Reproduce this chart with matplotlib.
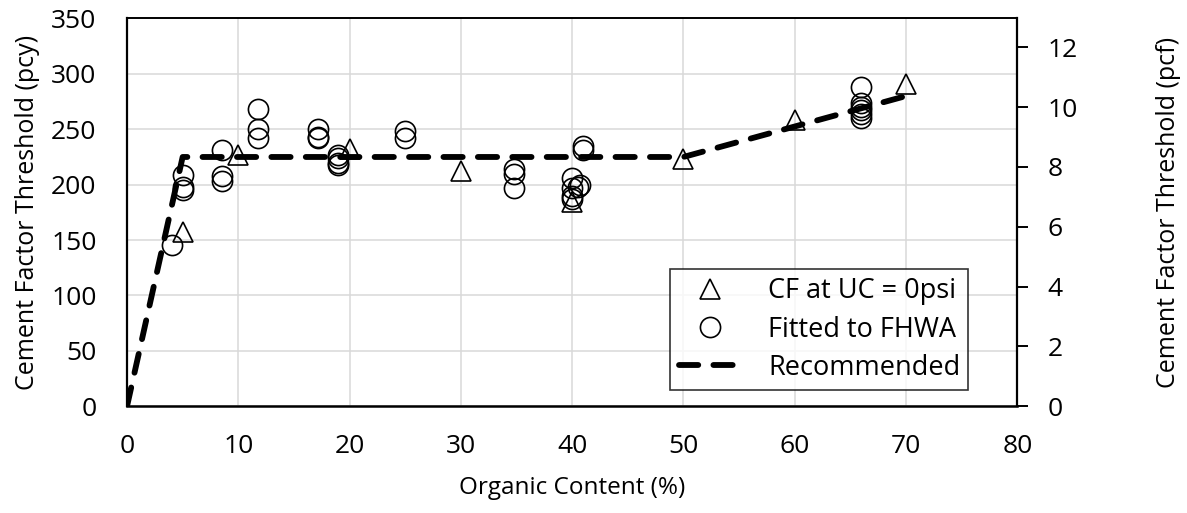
import numpy as np
import matplotlib
matplotlib.use("Agg")
import matplotlib.pyplot as plt

plt.rcParams['font.family'] = ['Open Sans', 'DejaVu Sans']

# CF at UC = 0psi
tri_x = [5, 10, 20, 30, 40, 50, 60, 70]
tri_y = [157, 227, 232, 212, 184, 223, 258, 291]

# Fitted to FHWA
circ_x = [4, 5, 5, 5, 8.5, 8.5, 8.5, 11.8, 11.8, 11.8, 17.2, 17.2, 17.2,
          19, 19, 19, 19, 25, 25, 34.8, 34.8, 34.8,
          40, 40.7, 40, 40, 40, 40.5, 41, 41,
          66, 66, 66, 66, 66, 66]
circ_y = [146, 209, 198, 195, 231, 208, 203, 268, 250, 242, 250, 243, 242,
          227, 224, 220, 218, 248, 242, 214, 210, 197,
          206, 200, 197, 190, 187, 198, 235, 231,
          288, 274, 270, 267, 264, 260]

# Recommended
rec_x = [0, 5, 50, 70]
rec_y = [0, 225, 225, 280]

fig = plt.figure(figsize=(11.87, 5.13), dpi=100)
ax = fig.add_axes([0.107, 0.208, 0.750, 0.756])

ax.plot(tri_x, tri_y, linestyle='none', marker='^', markersize=15,
        markerfacecolor='none', markeredgecolor='black', markeredgewidth=1.2,
        label='CF at UC = 0psi', zorder=3)
ax.plot(circ_x, circ_y, linestyle='none', marker='o', markersize=14.5,
        markerfacecolor='none', markeredgecolor='black', markeredgewidth=1.2,
        label='Fitted to FHWA', zorder=3)
ax.plot(rec_x, rec_y, color='black', linewidth=4.2, dashes=(3.3, 2.6),
        dash_capstyle='round', label='Recommended', zorder=4)

ax.set_xlim(0, 80)
ax.set_ylim(0, 350)
ax.set_xticks(np.arange(0, 81, 10))
ax.set_yticks(np.arange(0, 351, 50))
ax.grid(True, color='#d9d9d9', linewidth=1.1)
ax.set_axisbelow(True)
ax.tick_params(axis='both', length=0, labelsize=19)
ax.tick_params(axis='y', pad=22)
ax.tick_params(axis='x', pad=20)
for s in ['left', 'bottom', 'top']:
    ax.spines[s].set_color('black')
ax.spines['left'].set_linewidth(1.6)
ax.spines['bottom'].set_linewidth(1.8)
ax.spines['top'].set_linewidth(1.4)
ax.spines['right'].set_visible(False)

ax.set_xlabel('Organic Content (%)', fontsize=17.5, labelpad=12)
ax.set_ylabel('Cement Factor Threshold (pcy)', fontsize=18, labelpad=8)

ax2 = ax.twinx()
ax2.set_ylim(0, 350 / 27.0)
ax2.set_yticks(np.arange(0, 13, 2))
ax2.tick_params(axis='y', direction='out', length=8, width=1.4, labelsize=19, pad=14)
for s in ['left', 'bottom', 'top']:
    ax2.spines[s].set_visible(False)
ax2.spines['right'].set_linewidth(1.6)
ax2.spines['right'].set_color('black')
ax2.set_ylabel('Cement Factor Threshold (pcf)', fontsize=18, labelpad=56)

leg = ax.legend(loc='lower right', bbox_to_anchor=(0.945, 0.042), borderaxespad=0,
                fontsize=19.5, frameon=True, fancybox=False, edgecolor='black',
                handlelength=2.3, handletextpad=1.0, borderpad=0.3,
                labelspacing=0.38)
leg.get_frame().set_linewidth(1.2)
leg.set_zorder(10)

fig.savefig('out.png', dpi=100)
